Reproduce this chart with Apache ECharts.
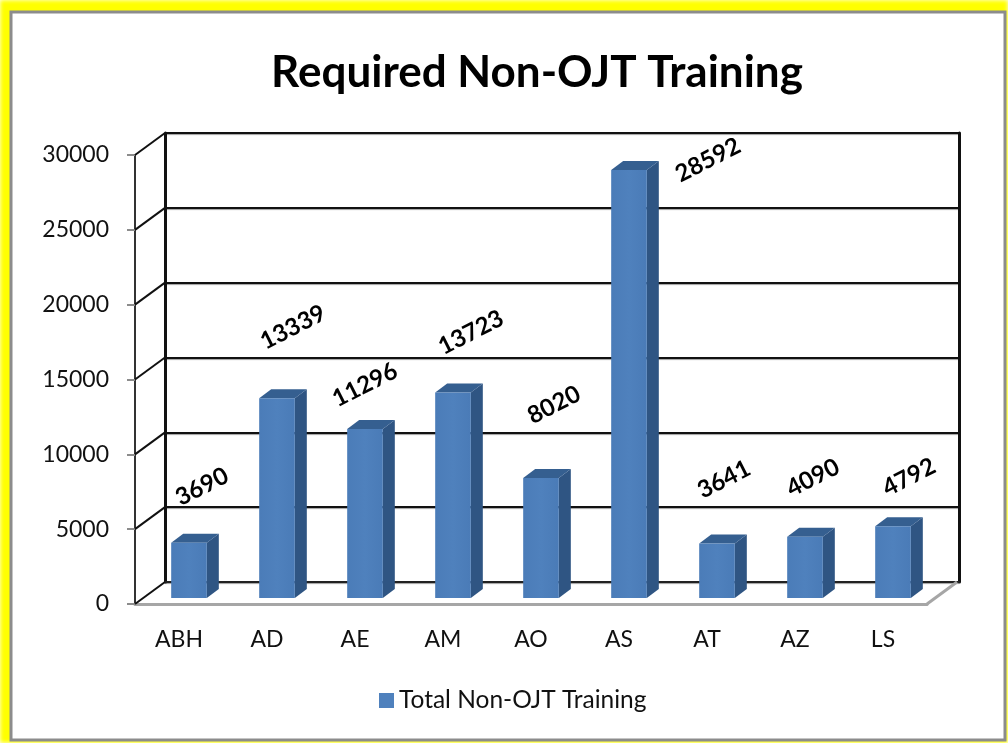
<!DOCTYPE html>
<html>
<head>
<meta charset="utf-8">
<title>Required Non-OJT Training</title>
<script src="https://cdn.jsdelivr.net/npm/echarts@6/dist/echarts.min.js"></script>
<style>
    html, body { margin: 0; padding: 0; background: #ffff00; }
    #chart { width: 1008px; height: 743px; box-shadow: inset 0 0 4px #ffffff; }
</style>
</head>
<body>
<div id="chart"></div>
<script>
const categories = ['ABH', 'AD', 'AE', 'AM', 'AO', 'AS', 'AT', 'AZ', 'LS'];
const totals = [3690, 13339, 11296, 13723, 8020, 28592, 3641, 4090, 4792];
const yTicks = [0, 5000, 10000, 15000, 20000, 25000, 30000];
const seriesName = 'Total Non-OJT Training';

// where each value label sits relative to its bar, in pixels
const labelShift = [[23, -62], [26, -77], [10, -50], [28, -66], [23, -79], [89, -16], [17, -70], [18, -65], [26, -55]];

const FONT = 'Lato, "Open Sans", sans-serif';
const wallDepth = [30, -22];
const barShift = [10, -6];
const barDepth = [12, -9];
const barRatio = 0.405;

function renderBar(params, api) {
    const i = api.value(0);
    const top = api.coord([i, api.value(1)]);
    const base = api.coord([i, 0]);
    const w = api.size([1, 0])[0] * barRatio;
    const x0 = top[0] + barShift[0] - w / 2;
    const x1 = x0 + w;
    const y0 = top[1] + barShift[1];
    const y1 = base[1] + barShift[1];
    const dx = barDepth[0];
    const dy = barDepth[1];
    return {
        type: 'group',
        children: [{
            type: 'polygon',
            shape: {points: [[x1, y0], [x1 + dx, y0 + dy], [x1 + dx, y1 + dy], [x1, y1]]},
            style: {fill: '#2f5583'}
        }, {
            type: 'polygon',
            shape: {points: [[x0, y0], [x0 + dx, y0 + dy], [x1 + dx, y0 + dy], [x1, y0]]},
            style: {fill: '#355f90'}
        }, {
            type: 'rect',
            shape: {x: x0, y: y0, width: w, height: y1 - y0},
            style: {
                fill: new echarts.graphic.LinearGradient(0, 0, 1, 0, [
                    {offset: 0, color: '#4b7cb8'},
                    {offset: 0.5, color: '#4f81bd'},
                    {offset: 1, color: '#4a7bb7'}
                ])
            }
        }, {
            type: 'text',
            x: top[0] + labelShift[i][0],
            y: top[1] + labelShift[i][1],
            rotation: 0.47,
            z2: 10,
            style: {
                text: String(api.value(1)),
                x: 0,
                y: 0,
                align: 'center',
                verticalAlign: 'middle',
                fill: '#000000',
                font: 'bold 24px ' + FONT
            }
        }]
    };
}

// diagonal lines joining the front value axis to the back wall
function renderWallLine(params, api) {
    const x = params.coordSys.x;
    const y = api.coord([0, api.value(0)])[1];
    return {
        type: 'line',
        shape: {x1: x, y1: y, x2: x + wallDepth[0], y2: y + wallDepth[1]},
        style: {stroke: '#111111', lineWidth: 2}
    };
}

function renderFloorEdge(params, api) {
    const x = params.coordSys.x + params.coordSys.width;
    const y = api.coord([0, 0])[1];
    return {
        type: 'line',
        shape: {x1: x, y1: y, x2: x + wallDepth[0], y2: y + wallDepth[1]},
        style: {stroke: '#a6a6a6', lineWidth: 3}
    };
}

const chart = echarts.init(document.getElementById('chart'));
chart.setOption({
    animation: false,
    backgroundColor: 'transparent',
    title: {
        text: 'Required Non-OJT Training',
        left: 532,
        top: 46,
        textAlign: 'center',
        textStyle: {fontFamily: FONT, fontWeight: 'bold', fontSize: 44, color: '#000000'}
    },
    legend: {
        data: [seriesName],
        left: 374,
        top: 683,
        icon: 'rect',
        itemWidth: 15,
        itemHeight: 15,
        itemGap: 6,
        textStyle: {fontFamily: FONT, fontSize: 24.5, color: '#111111'}
    },
    graphic: [{
        type: 'rect',
        z: -10,
        shape: {x: 11, y: 12, width: 994, height: 728},
        style: {fill: '#ffffff', stroke: '#8c8c8c', lineWidth: 3}
    }],
    grid: [
        {left: 135, right: 81, top: 155, bottom: 139},
        {left: 165, right: 49, top: 133, bottom: 161}
    ],
    xAxis: [{
        type: 'category',
        gridIndex: 0,
        data: categories,
        axisLine: {lineStyle: {color: '#a6a6a6', width: 3}},
        axisTick: {length: 8, lineStyle: {color: '#8c8c8c', width: 2}},
        axisLabel: {fontFamily: FONT, fontSize: 23, color: '#111111', margin: 24, interval: 0}
    }, {
        type: 'category',
        gridIndex: 1,
        data: categories,
        axisLine: {lineStyle: {color: '#222222', width: 2}},
        axisTick: {show: false},
        axisLabel: {show: false}
    }],
    yAxis: [{
        type: 'value',
        gridIndex: 0,
        min: 0,
        max: 30000,
        interval: 5000,
        axisLine: {show: true, lineStyle: {color: '#333333', width: 2}},
        axisTick: {show: true, length: 8, lineStyle: {color: '#8c8c8c', width: 2}},
        axisLabel: {fontFamily: FONT, fontSize: 23, color: '#111111', margin: 26, padding: [3, 0, 0, 0], formatter: v => String(v)},
        splitLine: {show: false}
    }, {
        type: 'value',
        gridIndex: 1,
        min: 0,
        max: 30000,
        interval: 5000,
        axisLine: {show: true, lineStyle: {color: '#111111', width: 3}},
        axisTick: {show: false},
        axisLabel: {show: false},
        splitLine: {
            show: true,
            lineStyle: {color: '#111111', width: 2, shadowColor: '#a0a0a0', shadowOffsetY: 1, shadowBlur: 1}
        }
    }, {
        type: 'value',
        gridIndex: 1,
        position: 'right',
        min: 0,
        max: 30000,
        interval: 5000,
        axisLine: {show: true, lineStyle: {color: '#111111', width: 3}},
        axisTick: {show: false},
        axisLabel: {show: false},
        splitLine: {show: false}
    }],
    series: [{
        type: 'custom',
        name: 'wall',
        xAxisIndex: 0,
        yAxisIndex: 0,
        silent: true,
        z: 1,
        renderItem: renderWallLine,
        encode: {y: 0},
        data: yTicks.map(t => [t])
    }, {
        type: 'custom',
        name: 'floor',
        xAxisIndex: 0,
        yAxisIndex: 0,
        silent: true,
        z: 1,
        renderItem: renderFloorEdge,
        encode: {y: 0},
        data: [[0]]
    }, {
        type: 'custom',
        name: seriesName,
        xAxisIndex: 0,
        yAxisIndex: 0,
        z: 5,
        clip: false,
        itemStyle: {color: '#4f81bd'},
        renderItem: renderBar,
        encode: {x: 0, y: 1},
        data: totals.map((v, i) => [i, v])
    }]
});
</script>
</body>
</html>
